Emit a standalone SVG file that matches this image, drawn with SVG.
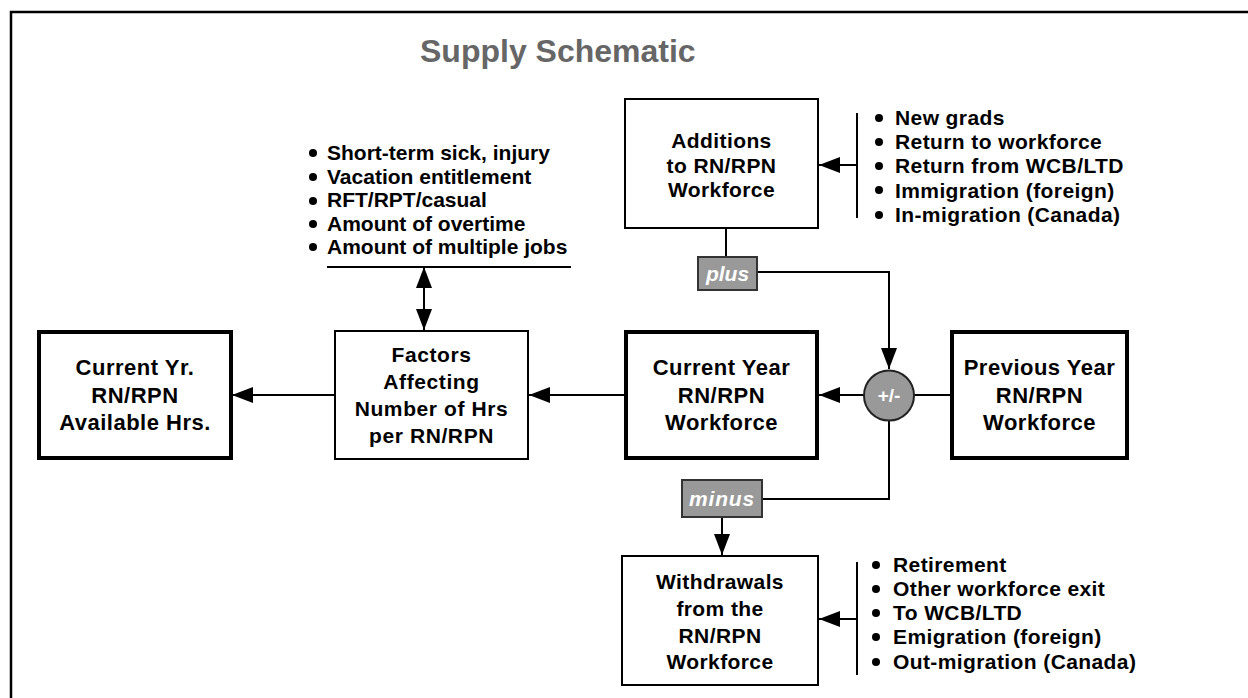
<svg xmlns="http://www.w3.org/2000/svg" width="1248" height="698" viewBox="0 0 1248 698">
<defs>
<marker id="ah" markerUnits="userSpaceOnUse" markerWidth="23" markerHeight="17" refX="21" refY="8" orient="auto-start-reverse">
<path d="M0,0 L21,8 L0,16 Z" fill="#000"/>
</marker>
<style>
.t{font-family:"Liberation Sans",Arial,sans-serif;font-weight:bold;font-size:21px;fill:#000}
.c{text-anchor:middle}
.bx{letter-spacing:0.4px}
.bk{font-size:22px;letter-spacing:0.5px}
.rl{letter-spacing:0.4px}
.thin{fill:#fff;stroke:#000;stroke-width:2}
.thick{fill:#fff;stroke:#000;stroke-width:4}
.ln{fill:none;stroke:#000;stroke-width:2}
.tag{fill:#999;stroke:#333;stroke-width:2}
.tagt{font-family:"Liberation Sans",Arial,sans-serif;font-weight:bold;font-style:italic;font-size:21px;fill:#fff;text-anchor:middle}
.bul{fill:#000}
</style>
</defs>
<rect width="1248" height="698" fill="#fff"/>
<path d="M11,698 V12 H1248" fill="none" stroke="#000" stroke-width="2.5"/>
<text x="420" y="62" font-family="Liberation Sans,Arial,sans-serif" font-weight="bold" font-size="32" fill="#666">Supply Schematic</text>

<g id="connectors">
<line class="ln" x1="335" y1="395" x2="232" y2="395" marker-end="url(#ah)"/>
<line class="ln" x1="625" y1="395" x2="529" y2="395" marker-end="url(#ah)"/>
<line class="ln" x1="864" y1="395" x2="819" y2="395" marker-end="url(#ah)"/>
<line class="ln" x1="951" y1="395" x2="914" y2="395"/>
<line class="ln" x1="424" y1="267" x2="424" y2="330" marker-start="url(#ah)" marker-end="url(#ah)"/>
<line class="ln" x1="726" y1="228" x2="726" y2="256"/>
<path class="ln" d="M757,272 H889 V369" marker-end="url(#ah)"/>
<path class="ln" d="M889,421 V499 H762"/>
<line class="ln" x1="722" y1="517" x2="722" y2="555" marker-end="url(#ah)"/>
<line class="ln" x1="857" y1="113" x2="857" y2="218"/>
<line class="ln" x1="857" y1="165" x2="819" y2="165" marker-end="url(#ah)"/>
<line class="ln" x1="857" y1="562" x2="857" y2="675"/>
<line class="ln" x1="857" y1="619" x2="819" y2="619" marker-end="url(#ah)"/>
<line class="ln" x1="327" y1="267" x2="571" y2="267"/>
</g>

<g id="additions">
<rect class="thin" x="625" y="99" width="193" height="129"/>
<text class="t c bx" x="721.5" y="148">Additions</text>
<text class="t c bx" x="721.5" y="172.5">to RN/RPN</text>
<text class="t c bx" x="721.5" y="197">Workforce</text>
</g>

<g id="additions-list">
<circle class="bul" cx="879" cy="118" r="4"/>
<circle class="bul" cx="879" cy="142" r="4"/>
<circle class="bul" cx="879" cy="166" r="4"/>
<circle class="bul" cx="879" cy="190" r="4"/>
<circle class="bul" cx="879" cy="215" r="4"/>
<text class="t rl" x="895" y="125">New grads</text>
<text class="t rl" x="895" y="149">Return to workforce</text>
<text class="t rl" x="895" y="173">Return from WCB/LTD</text>
<text class="t rl" x="895" y="197.5">Immigration (foreign)</text>
<text class="t rl" x="895" y="222">In-migration (Canada)</text>
</g>

<g id="factors-list">
<circle class="bul" cx="313" cy="153" r="4"/>
<circle class="bul" cx="313" cy="177" r="4"/>
<circle class="bul" cx="313" cy="201" r="4"/>
<circle class="bul" cx="313" cy="224" r="4"/>
<circle class="bul" cx="313" cy="247" r="4"/>
<text class="t" x="327" y="160">Short-term sick, injury</text>
<text class="t" x="327" y="184">Vacation entitlement</text>
<text class="t" x="327" y="207">RFT/RPT/casual</text>
<text class="t" x="327" y="231">Amount of overtime</text>
<text class="t" x="327" y="254">Amount of multiple jobs</text>
</g>

<g id="current-yr">
<rect class="thick" x="39" y="332" width="192" height="126"/>
<text class="t c bk" x="135" y="375">Current Yr.</text>
<text class="t c bk" x="135" y="403">RN/RPN</text>
<text class="t c bk" x="135" y="430">Available Hrs.</text>
</g>

<g id="factors">
<rect class="thin" x="335" y="331" width="193" height="128"/>
<text class="t c" x="431.5" y="362" style="letter-spacing:0.6px">Factors</text>
<text class="t c" x="431.5" y="389" style="letter-spacing:0.6px">Affecting</text>
<text class="t c" x="431.5" y="416" style="letter-spacing:0.6px">Number of Hrs</text>
<text class="t c" x="431.5" y="443" style="letter-spacing:0.6px">per RN/RPN</text>
</g>

<g id="current-year">
<rect class="thick" x="626" y="332" width="191" height="126"/>
<text class="t c bk" x="721.5" y="375">Current Year</text>
<text class="t c bk" x="721.5" y="403">RN/RPN</text>
<text class="t c bk" x="721.5" y="430">Workforce</text>
</g>

<g id="previous-year">
<rect class="thick" x="952" y="332" width="175" height="126"/>
<text class="t c bk" x="1039.5" y="375">Previous Year</text>
<text class="t c bk" x="1039.5" y="403">RN/RPN</text>
<text class="t c bk" x="1039.5" y="430">Workforce</text>
</g>

<g id="sum">
<circle cx="889" cy="395.5" r="25" fill="#999" stroke="#222" stroke-width="2"/>
<text x="889" y="402" font-family="Liberation Sans,Arial,sans-serif" font-weight="bold" font-size="19" fill="#fff" text-anchor="middle">+/-</text>
</g>

<g id="plus">
<rect class="tag" x="698" y="257" width="59" height="33"/>
<text class="tagt" x="727.5" y="281">plus</text>
</g>

<g id="minus">
<rect class="tag" x="682" y="480" width="80" height="37"/>
<text class="tagt" x="722" y="506" style="letter-spacing:0.8px">minus</text>
</g>

<g id="withdrawals">
<rect class="thin" x="622" y="556" width="196" height="129"/>
<text class="t c bx" x="720" y="589">Withdrawals</text>
<text class="t c bx" x="720" y="616">from the</text>
<text class="t c bx" x="720" y="643">RN/RPN</text>
<text class="t c bx" x="720" y="669">Workforce</text>
</g>

<g id="withdrawals-list">
<circle class="bul" cx="876" cy="565" r="4"/>
<circle class="bul" cx="876" cy="589" r="4"/>
<circle class="bul" cx="876" cy="613" r="4"/>
<circle class="bul" cx="876" cy="637" r="4"/>
<circle class="bul" cx="876" cy="662" r="4"/>
<text class="t rl" x="893" y="572">Retirement</text>
<text class="t rl" x="893" y="596">Other workforce exit</text>
<text class="t rl" x="893" y="620">To WCB/LTD</text>
<text class="t rl" x="893" y="644">Emigration (foreign)</text>
<text class="t rl" x="893" y="669">Out-migration (Canada)</text>
</g>
</svg>
